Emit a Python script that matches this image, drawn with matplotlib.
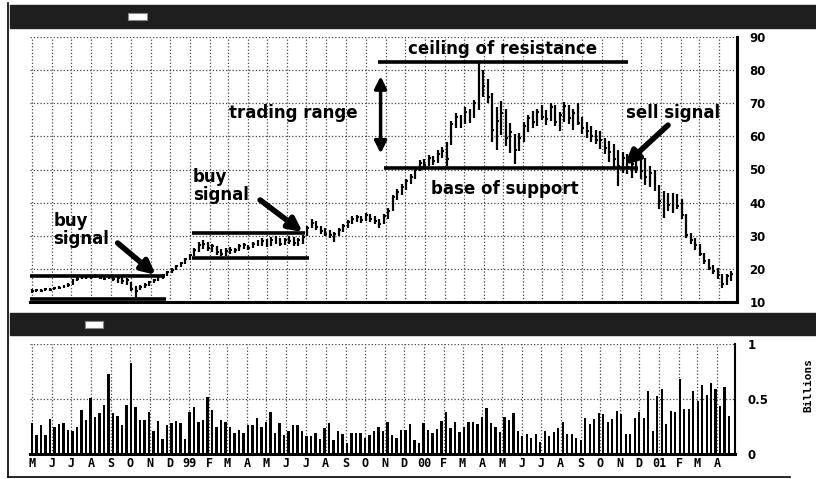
# Stock chart with trading range annotations

import numpy as np
import matplotlib
matplotlib.use('Agg')
import matplotlib.pyplot as plt
import matplotlib.dates as mdates
from matplotlib.patches import Rectangle
from matplotlib.lines import Line2D
import pandas as pd

# Weekly price data (high, low, close)
high = [13.8, 14.0, 13.9, 14.3, 14.2, 14.5, 14.8, 15.2, 15.6, 16.8,
        17.4, 17.8, 18.2, 18.0, 18.4, 18.0, 17.8, 18.1, 17.7, 17.8,
        17.4, 17.2, 16.0, 14.8, 15.0, 15.6, 16.4, 17.0, 17.8, 18.6,
        19.4, 20.4, 21.2, 22.2, 23.4, 24.6, 26.2, 28.0, 28.6, 28.2,
        27.6, 26.8, 26.0, 26.2, 26.6, 26.4, 27.4, 27.8, 27.2, 28.0,
        28.6, 29.4, 29.0, 29.6, 29.8, 29.4, 29.2, 29.8, 29.6, 29.2,
        30.2, 33.0, 35.0, 34.4, 33.0, 32.2, 31.6, 31.0, 32.2, 33.6,
        34.8, 36.0, 36.4, 36.0, 37.0, 36.6, 36.0, 35.2, 36.6, 38.4,
        42.4, 44.0, 45.6, 47.0, 48.6, 50.4, 53.0, 53.2, 54.4, 54.0,
        55.8, 56.8, 58.2, 64.6, 67.0, 66.4, 68.8, 68.2, 71.0, 82.4,
        80.0, 77.4, 73.0, 69.0, 70.6, 68.4, 64.0, 60.6, 61.0, 64.2,
        66.6, 67.8, 68.2, 69.6, 68.0, 70.2, 69.4, 67.4, 70.4, 69.6,
        68.4, 70.0, 66.0, 64.2, 63.0, 62.0, 61.6, 59.4, 58.6, 57.8,
        56.0, 55.4, 54.6, 53.0, 56.0, 55.2, 53.6, 51.2, 49.8, 45.2,
        43.6, 43.0, 42.8, 42.6, 41.0, 36.6, 30.8, 29.4, 27.6, 24.8,
        23.0, 21.2, 20.2, 18.4, 18.6, 19.4]
low = [12.8, 13.0, 13.0, 13.4, 13.2, 13.6, 13.8, 14.2, 14.6, 15.2,
       16.3, 16.8, 17.0, 16.9, 17.2, 16.8, 16.5, 16.9, 16.2, 15.8,
       15.4, 15.0, 13.2, 11.0, 13.6, 14.2, 14.8, 15.6, 16.3, 17.0,
       17.8, 18.8, 19.6, 20.5, 21.6, 22.8, 24.0, 25.2, 26.0, 25.4,
       25.0, 24.2, 23.8, 24.0, 24.6, 24.8, 25.4, 26.0, 25.8, 26.2,
       26.8, 27.0, 26.6, 27.0, 27.4, 26.8, 27.2, 27.6, 27.0, 26.8,
       27.6, 30.0, 32.2, 31.8, 30.6, 29.8, 29.2, 28.0, 30.0, 31.2,
       32.4, 33.6, 34.2, 33.8, 34.6, 34.2, 33.4, 32.4, 33.4, 35.2,
       37.4, 40.8, 42.4, 43.8, 45.6, 47.0, 49.6, 50.6, 51.0, 51.4,
       52.0, 53.4, 51.2, 57.4, 62.4, 62.6, 63.6, 64.0, 65.4, 68.0,
       72.0, 70.2, 58.4, 56.0, 60.4, 57.0, 55.0, 51.6, 55.6, 58.4,
       61.4, 62.6, 63.0, 64.8, 63.4, 64.6, 63.2, 61.6, 64.2, 63.8,
       62.0, 63.4, 60.8, 59.4, 58.4, 57.6, 56.2, 54.8, 52.2, 50.4,
       45.0, 49.0, 48.6, 47.4, 49.0, 47.0, 45.4, 44.8, 43.4, 38.2,
       35.4, 37.6, 36.8, 38.0, 35.2, 29.2, 27.6, 25.8, 23.8, 21.6,
       19.6, 18.6, 16.8, 14.2, 15.0, 16.2]
close = [13.2, 13.5, 13.4, 13.9, 13.6, 14.1, 14.3, 14.8, 15.2, 16.4,
         16.9, 17.3, 17.6, 17.4, 17.9, 17.2, 17.0, 17.5, 16.8, 17.1,
         16.2, 16.6, 14.0, 13.4, 14.6, 15.2, 15.9, 16.6, 17.4, 18.2,
         19.0, 19.8, 20.8, 21.8, 23.0, 24.2, 25.6, 27.2, 27.6, 26.2,
         26.8, 25.0, 24.6, 25.4, 25.8, 25.6, 26.8, 27.2, 26.4, 27.4,
         28.0, 28.4, 27.4, 28.8, 28.2, 27.6, 28.6, 28.4, 27.8, 28.6,
         29.6, 32.4, 34.0, 32.6, 31.4, 30.6, 30.2, 30.6, 31.6, 33.0,
         34.2, 35.2, 35.6, 34.8, 36.4, 35.2, 34.4, 33.6, 36.0, 37.6,
         41.6, 43.2, 44.8, 46.4, 47.8, 49.8, 52.0, 51.4, 53.4, 52.6,
         54.6, 55.6, 53.2, 63.8, 65.8, 64.4, 67.4, 66.0, 70.0, 78.0,
         75.2, 72.0, 62.0, 64.6, 67.2, 59.4, 61.2, 56.0, 59.6, 63.0,
         65.4, 64.2, 67.4, 66.0, 65.2, 68.8, 64.4, 66.6, 69.2, 65.6,
         67.2, 64.0, 62.4, 61.6, 60.2, 59.0, 58.8, 56.4, 55.2, 53.2,
         51.0, 53.6, 50.8, 51.6, 54.4, 49.4, 47.6, 49.0, 44.6, 40.4,
         41.2, 39.2, 41.6, 39.0, 36.4, 30.2, 28.6, 27.2, 24.6, 22.4,
         20.4, 19.4, 18.2, 15.4, 17.8, 18.4]

# Weekly volume in billions
volume = [0.28, 0.17, 0.26, 0.17, 0.32, 0.25, 0.27, 0.28, 0.22, 0.21,
          0.25, 0.40, 0.31, 0.51, 0.34, 0.37, 0.45, 0.73, 0.37, 0.35,
          0.26, 0.45, 0.83, 0.43, 0.31, 0.31, 0.38, 0.21, 0.30, 0.14,
          0.26, 0.28, 0.30, 0.28, 0.14, 0.38, 0.43, 0.29, 0.31, 0.52,
          0.40, 0.25, 0.31, 0.29, 0.25, 0.19, 0.22, 0.19, 0.26, 0.26,
          0.33, 0.25, 0.29, 0.38, 0.19, 0.28, 0.17, 0.21, 0.26, 0.26,
          0.21, 0.16, 0.16, 0.19, 0.14, 0.24, 0.28, 0.13, 0.21, 0.18,
          0.10, 0.19, 0.19, 0.19, 0.15, 0.17, 0.21, 0.25, 0.21,
          0.29, 0.17, 0.15, 0.22, 0.22, 0.27, 0.13, 0.10, 0.28, 0.22,
          0.19, 0.23, 0.30, 0.38, 0.24, 0.29, 0.20, 0.25, 0.29, 0.29,
          0.27, 0.34, 0.42, 0.28, 0.25, 0.20, 0.34, 0.31, 0.37, 0.21,
          0.16, 0.18, 0.15, 0.18, 0.11, 0.21, 0.16, 0.20, 0.24, 0.29,
          0.18, 0.18, 0.15, 0.13, 0.33, 0.27, 0.32, 0.37, 0.36, 0.29,
          0.32, 0.39, 0.36, 0.18, 0.18, 0.33, 0.38, 0.33, 0.57, 0.21,
          0.53, 0.59, 0.27, 0.39, 0.38, 0.68, 0.41, 0.41, 0.57, 0.48,
          0.63, 0.54, 0.65, 0.59, 0.44, 0.61, 0.35]

month_labels = ['M', 'J', 'J', 'A', 'S', 'O', 'N', 'D', '99', 'F', 'M', 'A',
                'M', 'J', 'J', 'A', 'S', 'O', 'N', 'D', '00', 'F', 'M', 'A',
                'M', 'J', 'J', 'A', 'S', 'O', 'N', 'D', '01', 'F', 'M', 'A']
price_ticks = [10, 20, 30, 40, 50, 60, 70, 80, 90]
vol_ticks = [0, 0.5, 1]
vol_tick_labels = ['0', '0.5', '1']

weeks = mdates.date2num(pd.date_range('1998-05-01', periods=len(close), freq='W-FRI'))
months = mdates.date2num(pd.date_range('1998-05-01', '2001-04-01', freq='MS'))
d = lambda s: mdates.date2num(pd.Timestamp(s))
xmin, xmax = d('1998-04-28'), d('2001-04-29')

W, H = 816, 479
fig = plt.figure(figsize=(W / 100, H / 100), dpi=100)
fig.patch.set_facecolor('white')

# title bars
for (y0, y1, bx0, bx1) in [(5, 28, 128, 147), (313, 335, 85, 103)]:
    fig.patches.append(Rectangle((10 / W, 1 - y1 / H), 806 / W, (y1 - y0) / H,
                                 transform=fig.transFigure, color='#1e1e1e', zorder=0))
    fig.patches.append(Rectangle((bx0 / W, 1 - (y0 + 15) / H), (bx1 - bx0) / W, 7 / H,
                                 transform=fig.transFigure, facecolor='white',
                                 edgecolor='#888', lw=0.8, zorder=1))

# outer frame
fig.lines.append(Line2D([8 / W, 8 / W], [1 - 3 / H, 1 - 477 / H], transform=fig.transFigure, color='black', lw=1.2))
fig.lines.append(Line2D([8 / W, 790 / W], [1 - 477 / H, 1 - 477 / H], transform=fig.transFigure, color='black', lw=1.2))

tfont = dict(family='DejaVu Sans', weight='bold', fontsize=12)
lfont = dict(family='DejaVu Sans', weight='bold', fontsize=8.5)

# ---- price panel ----
ax = fig.add_axes([30 / W, 1 - 302 / H, (737 - 30) / W, (302 - 37) / H])
ax.vlines(weeks, low, high, color='black', lw=1.6)
ax.hlines(close, weeks, weeks + 3, color='black', lw=1.5)
ax.set_xlim(xmin, xmax)
ax.set_ylim(10, 90)
ax.set_xticks(months)
ax.set_xticklabels([])
ax.set_yticks(price_ticks)
ax.yaxis.tick_right()
ax.set_yticklabels([str(t) for t in price_ticks], **lfont)
ax.tick_params(length=0, pad=9)
ax.grid(True, ls=':', color='#444', lw=0.9)
ax.set_axisbelow(True)
for s in ['left', 'top']:
    ax.spines[s].set_visible(False)
ax.spines['right'].set_linewidth(2.2)
ax.spines['bottom'].set_linewidth(2.2)

# support / resistance lines
lines = [(18, '1998-04-28', '1998-11-23'), (11, '1998-04-28', '1998-11-25'),
         (30.9, '1999-01-04', '1999-06-28'), (23.3, '1999-01-04', '1999-07-05'),
         (82.4, '1999-10-20', '2000-11-11'), (50.6, '1999-10-30', '2000-11-27')]
for yv, a, b in lines:
    ax.plot([d(a), d(b)], [yv, yv], color='black', lw=2.6, solid_capstyle='butt')

# trading range arrow
ax.annotate('', xy=(d('1999-10-24'), 79), xytext=(d('1999-10-24'), 54),
            arrowprops=dict(arrowstyle='<|-|>', lw=2.5, mutation_scale=18, color='black'))

arr = dict(arrowstyle='-|>', lw=4, mutation_scale=20, color='black', shrinkA=0, shrinkB=0)
ax.annotate('', xy=(d('1998-11-09'), 18.2), xytext=(d('1998-09-11'), 27.8), arrowprops=arr)
ax.annotate('', xy=(d('1999-06-25'), 31.1), xytext=(d('1999-04-20'), 40.8), arrowprops=arr)
ax.annotate('', xy=(d('2000-11-06'), 51.4), xytext=(d('2001-01-12'), 63.4), arrowprops=arr)

ax.text(d('1999-06-11'), 67.1, 'trading range', ha='center', va='center', **tfont)
ax.text(d('2000-05-01'), 86.4, 'ceiling of resistance', ha='center', va='center', **tfont)
ax.text(d('2001-01-20'), 67.1, 'sell signal', ha='center', va='center', **tfont)
ax.text(d('2000-05-04'), 44.1, 'base of support', ha='center', va='center', **tfont)
ax.text(d('1998-06-03'), 31.7, 'buy\nsignal', ha='left', va='center', linespacing=1.05, **tfont)
ax.text(d('1999-01-06'), 45.0, 'buy\nsignal', ha='left', va='center', linespacing=1.05, **tfont)

# ---- volume panel ----
axv = fig.add_axes([30 / W, 1 - 454 / H, (735 - 30) / W, (454 - 344) / H])
axv.bar(weeks, volume, width=3.8, color='black')
axv.set_xlim(xmin, xmax)
axv.set_ylim(0, 1)
axv.set_xticks(months)
axv.set_xticklabels(month_labels, family='DejaVu Sans Mono', weight='bold', fontsize=8.5)
axv.set_yticks(vol_ticks)
axv.yaxis.tick_right()
axv.set_yticklabels(vol_tick_labels, **lfont)
axv.tick_params(length=0, pad=9)
axv.tick_params(axis='x', pad=2)
axv.grid(True, ls=':', color='#444', lw=0.9)
axv.set_axisbelow(True)
for s in ['left', 'top']:
    axv.spines[s].set_visible(False)
axv.spines['right'].set_linewidth(1.5)
axv.spines['bottom'].set_linewidth(2.2)
fig.text(808 / W, 1 - 385 / H, 'Billions', rotation=90, ha='center', va='center',
         family='DejaVu Sans Mono', weight='bold', fontsize=8)

plt.savefig('out.png', dpi=100)
